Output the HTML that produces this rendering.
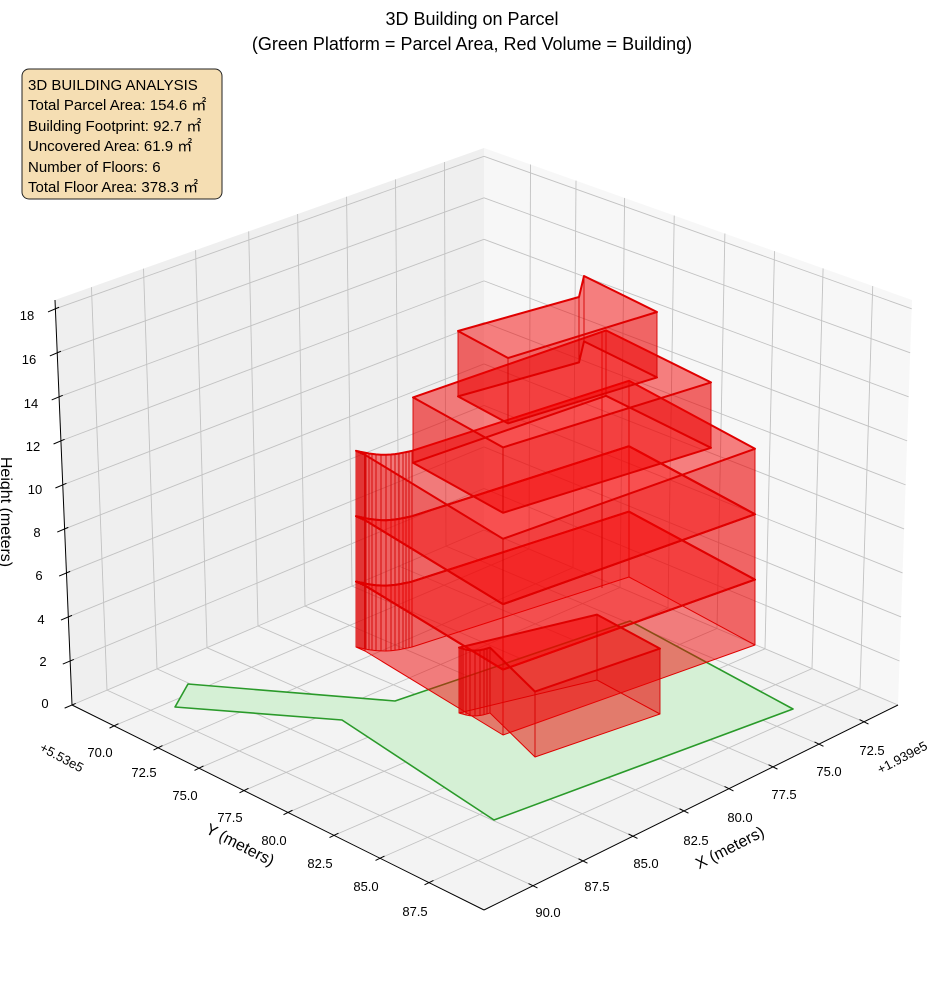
<!DOCTYPE html>
<html><head><meta charset="utf-8">
<style>
html,body{margin:0;padding:0;background:#fff;}
svg{display:block;font-family:"Liberation Sans",sans-serif;}
</style></head>
<body>
<svg id="s" width="944" height="992" viewBox="0 0 944 992" xmlns="http://www.w3.org/2000/svg">
<rect width="944" height="992" fill="#fff"/>
<g id="panes"></g>
<g id="grid" stroke="#c2c2c2" stroke-width="0.9" fill="none"></g>
<g id="parcel"></g>
<g id="bld"></g>
<g id="axes" stroke="#000" stroke-width="1" fill="none"></g>
<g font-size="13" fill="#000" text-anchor="middle">
<text x="45" y="708">0</text><text x="43" y="666">2</text><text x="41" y="624">4</text><text x="39" y="580">6</text><text x="37" y="537">8</text><text x="35" y="494">10</text><text x="33" y="451">12</text><text x="31" y="408">14</text><text x="29" y="364">16</text><text x="27" y="320">18</text>
<text x="100" y="757">70.0</text><text x="144" y="777">72.5</text><text x="185" y="800">75.0</text><text x="230" y="822">77.5</text><text x="274" y="845">80.0</text><text x="320" y="868">82.5</text><text x="366" y="891">85.0</text><text x="415" y="916">87.5</text>
<text x="872" y="755">72.5</text><text x="829" y="776">75.0</text><text x="784" y="799">77.5</text><text x="740" y="822">80.0</text><text x="696" y="845">82.5</text><text x="646" y="868">85.0</text><text x="597" y="891">87.5</text><text x="548" y="917">90.0</text>
<text x="62" y="762" transform="rotate(28 62 757)">+5.53e5</text>
<text x="902" y="762" transform="rotate(-28 902 757)">+1.939e5</text>
</g>
<g font-size="16" fill="#000" text-anchor="middle">
<text x="240" y="850" transform="rotate(27 240 845)">Y (meters)</text>
<text x="730" y="853" transform="rotate(-27 730 848)">X (meters)</text>
<text x="1" y="512" transform="rotate(90 1 512)">Height (meters)</text>
</g>
<g font-size="18" fill="#000" text-anchor="middle">
<text x="472" y="25">3D Building on Parcel</text>
<text x="472" y="50">(Green Platform = Parcel Area, Red Volume = Building)</text>
</g>
<rect x="22" y="69" width="200" height="130" rx="7" fill="#f5deb3" stroke="#222" stroke-width="1"/>
<g font-size="15" fill="#000">
<text x="28" y="90">3D BUILDING ANALYSIS</text>
<text x="28" y="110">Total Parcel Area: 154.6 ㎡</text>
<text x="28" y="131">Building Footprint: 92.7 ㎡</text>
<text x="28" y="151">Uncovered Area: 61.9 ㎡</text>
<text x="28" y="172">Number of Floors: 6</text>
<text x="28" y="192">Total Floor Area: 378.3 ㎡</text>
</g>
</svg>
<script>
(function(){
var NS="http://www.w3.org/2000/svg";
function el(p,tag,a){var e=document.createElementNS(NS,tag);for(var k in a)e.setAttribute(k,a[k]);p.appendChild(e);return e;}
function lerp(a,b,t){return [a[0]+(b[0]-a[0])*t,a[1]+(b[1]-a[1])*t];}
var L=[72,705],F=[484,910],R=[898,705],B=[484,530],LT=[55,300],BT=[484,148],RT=[912,300];
var ZM=18.4;
var panes=document.getElementById('panes'),grid=document.getElementById('grid');
function pts(a){return a.map(function(p){return p[0].toFixed(1)+','+p[1].toFixed(1);}).join(' ');}
el(panes,'polygon',{points:pts([L,B,BT,LT]),fill:'#efefef'});
el(panes,'polygon',{points:pts([B,R,RT,BT]),fill:'#f7f7f7'});
el(panes,'polygon',{points:pts([L,F,R,B]),fill:'#f3f3f3'});
function lw(p,z){var b=lerp(L,B,p),t=lerp(LT,BT,p);return lerp(b,t,z/ZM);}
function rw(p,z){var b=lerp(B,R,p),t=lerp(BT,RT,p);return lerp(b,t,z/ZM);}
function line(g,a,b,extra){var o={x1:a[0],y1:a[1],x2:b[0],y2:b[1]};for(var k in extra)o[k]=extra[k];return el(g,'line',o);}
var lwx=[107,157,207,258,305,352,399,446];
var rwx=[529,573,620,668,717,765,812,860];
var yt=[114,158,199,244,288,334,380,429];
var xt=[533,583,633,684,729,773,819,864];
function onLF(x){var p=(x-72)/412;return lerp(L,F,p);}
function onFR(x){var p=(x-484)/414;return lerp(F,R,p);}
for(var i=0;i<8;i++){
 var p=(lwx[i]-72)/412; line(grid,lw(p,0),lw(p,ZM));
 var q=(rwx[i]-484)/414; line(grid,rw(q,0),rw(q,ZM));
 line(grid,onLF(yt[i]),rw(q,0));
 line(grid,onFR(xt[i]),lw(p,0));
}
for(var z=0;z<=18;z+=2){line(grid,lw(0,z),lw(1,z));line(grid,rw(0,z),rw(1,z));}
var parcel=document.getElementById('parcel');
el(parcel,'polygon',{points:'188,684 395,701 630,621 793,709 494,820 342,720 175,707',fill:'#d5f0d5',stroke:'#2a9a2a','stroke-width':1.6,'stroke-linejoin':'round'});
var bld=document.getElementById('bld');var K=21.8;
function at(p,z){return [p[0],p[1]-K*z];}
function prism(fp,za,zb,thinBottom){
 var n=fp.length,bot=fp.map(function(p){return at(p,za);}),top=fp.map(function(p){return at(p,zb);});
 el(bld,'polygon',{points:pts(bot),fill:'rgba(255,0,0,0.2)',stroke:'none'});
 for(var i=0;i<n;i++){var j=(i+1)%n;
  el(bld,'polygon',{points:pts([bot[i],bot[j],top[j],top[i]]),fill:'rgba(235,0,0,0.36)',stroke:'none'});}
 el(bld,'polygon',{points:pts(top),fill:'rgba(255,0,0,0.2)',stroke:'none'});
 for(var i=0;i<n;i++){line(bld,bot[i],top[i],{stroke:'#d40000','stroke-width':0.9});}
 el(bld,'polygon',{points:pts(bot),fill:'none',stroke:'#e00000','stroke-width':thinBottom?1:2,'stroke-linejoin':'round'});
 el(bld,'polygon',{points:pts(top),fill:'none',stroke:'#e00000','stroke-width':2,'stroke-linejoin':'round'});
}
var arcX=[412,409,406,403,399,395,391,386,381,376,372,369,366,364,362,360,358,356];
var big=[[365,651],[503,735],[755,645],[629,577]];
arcX.forEach(function(x){big.push([x,647+4*Math.sin(Math.PI*(x-356)/56)]);});
prism(big,0,3,true);prism(big,3,6);prism(big,6,9);
var small=[];
[459,461,463,466,470,475,480,484,487,490].forEach(function(x){small.push([x,713+3*Math.sin(Math.PI*(x-459)/31)]);});
small.push([535,757],[660,714],[597,680]);
prism(small,0,3,true);
line(bld,[602,332],[602,588],{stroke:'#d40000','stroke-width':0.9});
prism([[413,659],[503,709],[711,644],[606,592]],9,12);
prism([[458,658],[508,685],[657,639],[584,603],[579,624]],12,15);
var ax=document.getElementById('axes');
line(ax,L,F);line(ax,F,R);line(ax,L,LT);
var dT=[0.896,-0.444],dS=[0.895,0.445];
yt.forEach(function(x){var p=onLF(x);line(ax,[p[0]-5*dT[0],p[1]-5*dT[1]],[p[0]+5*dT[0],p[1]+5*dT[1]]);});
xt.forEach(function(x){var p=onFR(x);line(ax,[p[0]-5*dS[0],p[1]-5*dS[1]],[p[0]+5*dS[0],p[1]+5*dS[1]]);});
for(var z=0;z<=18;z+=2){var p=lw(0,z);line(ax,[p[0]-8*0.92,p[1]+8*0.39],[p[0]+4*0.92,p[1]-4*0.39]);}
})();
</script>
</body></html>
